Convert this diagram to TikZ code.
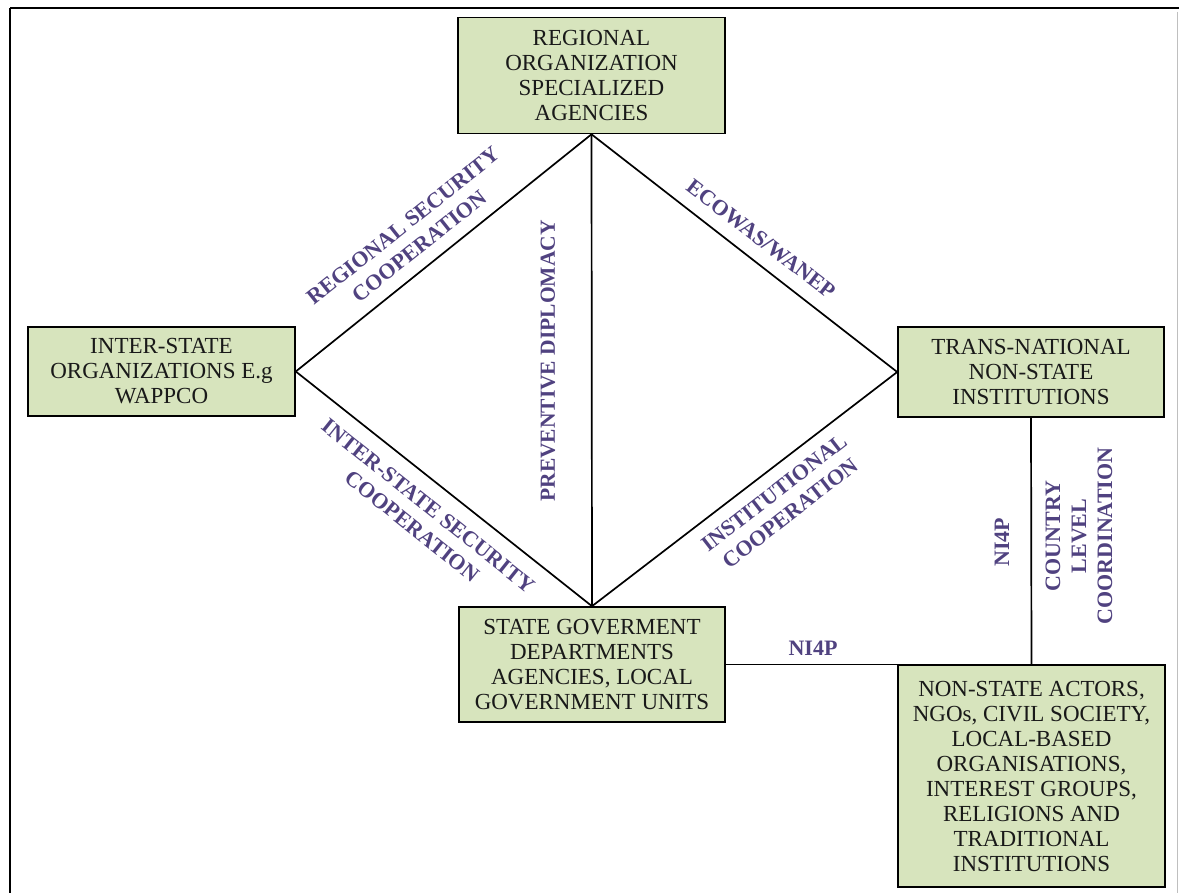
\documentclass[tikz,border=0pt]{standalone}
\usepackage{fontspec}
\setmainfont{Liberation Serif}
\definecolor{boxfill}{RGB}{215,228,189}
\definecolor{labelpurple}{RGB}{80,66,128}
\begin{document}
\begin{tikzpicture}[x=1pt,y=-1pt,
  actor/.style={draw=black,line width=1.6pt,fill=boxfill,align=center,
    inner sep=0pt,font=\fontsize{23}{25}\selectfont,text=black!90},
  link/.style={draw=black,line width=1.7pt},
  rel/.style={text=labelpurple,align=center,inner sep=0pt,
    font=\bfseries\fontsize{22}{26}\selectfont}]
  \useasboundingbox (0,0) rectangle (1179,893);
  \fill[white] (0,0) rectangle (1179,893);
  % outer frame
  \draw[line width=2.4pt] (10,8) -- (1179,8);
  \draw[line width=2pt] (10,8) -- (10,893);
  \draw[line width=0.8pt,black!25] (1177.5,12) -- (1177.5,893);

  % organisations
  \node[actor,minimum width=267pt,minimum height=116pt] (reg) at (591.5,75.5)
    {REGIONAL\\ORGANIZATION\\SPECIALIZED\\AGENCIES};
  \node[actor,minimum width=267pt,minimum height=89pt] (inter) at (161.5,371.5)
    {INTER-STATE\\ORGANIZATIONS E.g\\WAPPCO};
  \node[actor,minimum width=266pt,minimum height=90pt] (trans) at (1031,372)
    {TRANS-NATIONAL\\NON-STATE\\INSTITUTIONS};
  \node[actor,minimum width=266pt,minimum height=115pt] (state) at (592,664.5)
    {STATE GOVERMENT\\DEPARTMENTS\\AGENCIES, LOCAL\\GOVERNMENT UNITS};
  \node[actor,minimum width=267pt,minimum height=222pt] (ngo) at (1031.5,776)
    {NON-STATE ACTORS,\\NGOs, CIVIL SOCIETY,\\LOCAL-BASED\\ORGANISATIONS,\\INTEREST GROUPS,\\RELIGIONS AND\\TRADITIONAL\\INSTITUTIONS};

  % diamond of relations
  \draw[link] (reg.south) -- (inter.east);
  \draw[link] (reg.south) -- (trans.west);
  \draw[link] (reg.south) -- (state.north);
  \draw[link] (inter.east) -- (state.north);
  \draw[link] (trans.west) -- (state.north);
  % country level links
  \draw[link] (trans.south) -- (ngo.north);
  \draw[link] (state.east) -- (state.east -| ngo.north);

  % relation labels
  \node[rel,rotate=38.5] (lrsc) at (411,236) {REGIONAL SECURITY\\COOPERATION};
  \node[rel,rotate=-37.6] (lecw) at (761,239) {ECOWAS/WANEP};
  \node[rel,rotate=-38.6] (lisc) at (420,516) {INTER-STATE SECURITY\\COOPERATION};
  \node[rel,rotate=37.8] (linc) at (782,503) {INSTITUTIONAL\\COOPERATION};
  \node[rel,rotate=90,font=\bfseries\fontsize{21.5}{26}\selectfont] (lpd) at (548,361) {PREVENTIVE DIPLOMACY};
  \node[rel,rotate=90] (lni1) at (1002,542) {NI4P};
  \node[rel,rotate=90] (lclc) at (1079,536) {COUNTRY\\LEVEL\\COORDINATION};
  \node[rel] (lni2) at (813,648) {NI4P};
\end{tikzpicture}
\end{document}
